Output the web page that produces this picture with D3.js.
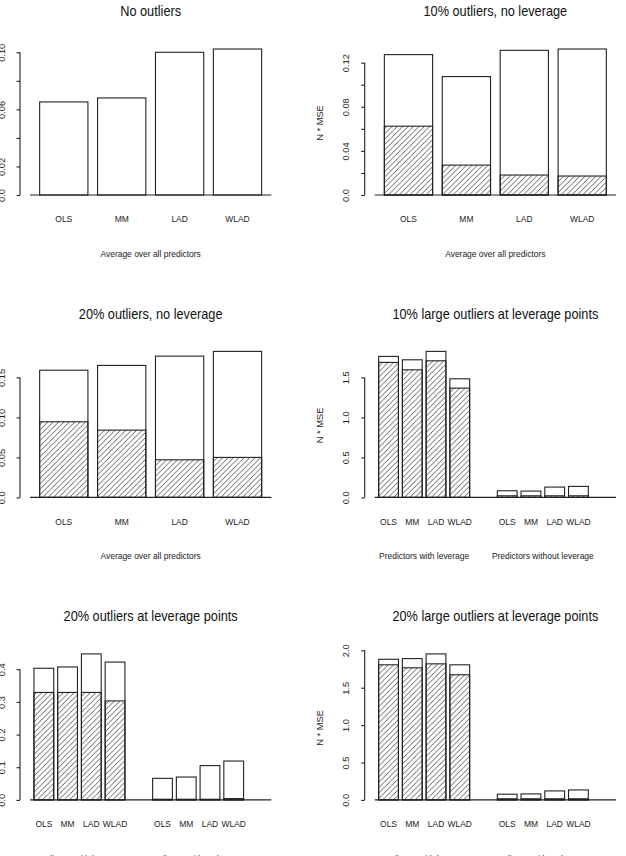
<!DOCTYPE html>
<html>
<head>
<meta charset="utf-8">
<script src="https://cdn.jsdelivr.net/npm/d3@7"></script>
<style>
  html, body { margin: 0; padding: 0; background: #fff; }
  svg { display: block; font-family: "Liberation Sans", Arial, sans-serif; }
</style>
</head>
<body>
<div id="chart"></div>
<script>
const methods = ["OLS", "MM", "LAD", "WLAD"]
const groupLabels = ["Predictors with leverage", "Predictors without leverage"]
const avgLabel = "Average over all predictors"
const yTitle = "N * MSE"
const titles = [
  "No outliers",
  "10% outliers, no leverage",
  "20% outliers, no leverage",
  "10% large outliers at leverage points",
  "20% outliers at leverage points",
  "20% large outliers at leverage points"
]

// N*MSE: full bar (white) and the hatched part, per method
const noOutTotal = [0.0652, 0.068, 0.100, 0.1023]
const noOutHatch = [0, 0, 0, 0]
const out10Total = [0.1273, 0.1074, 0.1312, 0.1324]
const out10Hatch = [0.0624, 0.0271, 0.0181, 0.0172]
const out20Total = [0.159, 0.165, 0.1766, 0.1825]
const out20Hatch = [0.0945, 0.0841, 0.047, 0.050]
// leverage panels: 4 methods with leverage, then 4 without
const lev10LargeTotal = [1.7625, 1.72, 1.825, 1.4825, 0.083, 0.079, 0.129, 0.1375]
const lev10LargeHatch = [1.6875, 1.595, 1.7075, 1.366, 0.02, 0.02, 0.02, 0.02]
const lev20Total = [0.403, 0.407, 0.447, 0.422, 0.066, 0.070, 0.105, 0.119]
const lev20Hatch = [0.329, 0.329, 0.329, 0.303, 0.002, 0.002, 0.002, 0.004]
const lev20LargeTotal = [1.880, 1.889, 1.952, 1.806, 0.076, 0.080, 0.120, 0.133]
const lev20LargeHatch = [1.806, 1.766, 1.819, 1.673, 0.015, 0.015, 0.015, 0.015]

// y ticks and the labels R kept (blank = tick without label)
const ticksA = [0, 0.02, 0.04, 0.06, 0.08, 0.10]
const labelsA = ["0.0", "0.02", "", "0.06", "", "0.10"]
const ticksB = [0, 0.02, 0.04, 0.06, 0.08, 0.10, 0.12]
const labelsB = ["0.0", "", "0.04", "", "0.08", "", "0.12"]
const ticksC = [0, 0.05, 0.10, 0.15]
const labelsC = ["0.0", "0.05", "0.10", "0.15"]
const ticksD = [0, 0.5, 1.0, 1.5]
const labelsD = ["0.0", "0.5", "1.0", "1.5"]
const ticksE = [0, 0.1, 0.2, 0.3, 0.4]
const labelsE = ["0.0", "0.1", "0.2", "0.3", "0.4"]
const ticksF = [0, 0.5, 1.0, 1.5, 2.0]
const labelsF = ["0.0", "0.5", "1.0", "1.5", "2.0"]

const panels = [
  {total: noOutTotal, hatch: noOutHatch, ticks: ticksA, labels: labelsA, grouped: false},
  {total: out10Total, hatch: out10Hatch, ticks: ticksB, labels: labelsB, grouped: false},
  {total: out20Total, hatch: out20Hatch, ticks: ticksC, labels: labelsC, grouped: false},
  {total: lev10LargeTotal, hatch: lev10LargeHatch, ticks: ticksD, labels: labelsD, grouped: true},
  {total: lev20Total, hatch: lev20Hatch, ticks: ticksE, labels: labelsE, grouped: true},
  {total: lev20LargeTotal, hatch: lev20LargeHatch, ticks: ticksF, labels: labelsF, grouped: true}
]

const W = 626, H = 856
const colLeft = [30, 374.7], plotW = 241.3
const rowBase = [195, 497.4, 799.9]
const maxBarH = 146
const sx = 0.91   // picture is squeezed a bit horizontally
const ink = "#222"

const svg = d3.select("#chart").append("svg").attr("width", W).attr("height", H)
svg.append("rect").attr("width", W).attr("height", H).attr("fill", "#fff")

const hw = 5.4
svg.append("defs").append("pattern")
  .attr("id", "hatch").attr("patternUnits", "userSpaceOnUse")
  .attr("width", hw).attr("height", hw)
  .append("path")
  .attr("d", `M0,${hw} L${hw},0 M${-hw/4},${hw/4} L${hw/4},${-hw/4} M${3*hw/4},${5*hw/4} L${5*hw/4},${3*hw/4}`)
  .attr("stroke", "#333").attr("stroke-width", 0.8)

function hText(sel, x, y, str, size) {
  return sel.append("text")
    .attr("transform", `translate(${x},${y}) scale(${sx},1)`)
    .attr("text-anchor", "middle").attr("font-size", size).attr("fill", ink)
    .text(str)
}

panels.forEach((p, i) => drawPanel(p, i))

function drawPanel(p, i) {
  const col = i % 2, row = Math.floor(i / 2)
  const left = colLeft[col], base = rowBase[row]
  const nSlots = p.grouped ? 10 : 4
  const bars = p.total.map((v, k) => ({
    slot: p.grouped ? Math.floor(k / 4) * 5 + k % 4 : k,
    total: v, hatch: p.hatch[k], label: methods[k % 4]
  }))

  const x = d3.scaleBand().domain(d3.range(nSlots)).range([left, left + plotW])
    .paddingInner(1/6).paddingOuter(1/6)
  const y = d3.scaleLinear().domain([0, d3.max(p.total)]).range([base, base - maxBarH])

  const g = svg.append("g")

  g.selectAll("rect.total").data(bars).join("rect")
    .attr("class", "total")
    .attr("x", d => x(d.slot)).attr("width", x.bandwidth())
    .attr("y", d => y(d.total)).attr("height", d => y(0) - y(d.total))
    .attr("fill", "#fff").attr("stroke", ink).attr("stroke-width", 1.1)

  g.selectAll("rect.hatch").data(bars.filter(d => d.hatch > 0)).join("rect")
    .attr("class", "hatch")
    .attr("x", d => x(d.slot)).attr("width", x.bandwidth())
    .attr("y", d => y(d.hatch)).attr("height", d => y(0) - y(d.hatch))
    .attr("fill", "url(#hatch)").attr("stroke", ink).attr("stroke-width", 1.1)

  g.append("line")
    .attr("x1", left).attr("x2", left + plotW).attr("y1", y(0)).attr("y2", y(0))
    .attr("stroke", ink).attr("stroke-width", 1.1)

  // y axis, R style: line only from first to last tick, labels parallel to axis
  const axisX = left - 10
  const ax = g.append("g").attr("transform", `translate(${axisX},0)`)
    .call(d3.axisLeft(y).tickValues(p.ticks).tickSize(3.5).tickSizeOuter(0)
      .tickFormat((d, k) => p.labels[k]))
  ax.select(".domain").remove()
  ax.append("line")
    .attr("y1", y(p.ticks[0])).attr("y2", y(p.ticks[p.ticks.length - 1]))
    .attr("stroke", ink).attr("stroke-width", 1.1)
  ax.selectAll(".tick line").attr("stroke", ink).attr("stroke-width", 1.1)
  ax.selectAll(".tick text")
    .attr("x", null).attr("dy", null)
    .attr("transform", "translate(-15.5,0) rotate(-90)")
    .attr("text-anchor", "middle").attr("font-size", 9.3)
    .attr("font-family", "'Liberation Sans', Arial, sans-serif").attr("fill", ink)

  g.append("text")
    .attr("transform", `translate(${axisX - 41.7},${base - 72}) rotate(-90)`)
    .attr("text-anchor", "middle").attr("font-size", 9.3).attr("fill", ink)
    .text(yTitle)

  hText(g, left + plotW / 2, base - 178.6, titles[i], 14).attr("fill", "#111")

  bars.forEach(d => hText(g, x(d.slot) + x.bandwidth() / 2, base + 27.4, d.label, 9.3))

  if (p.grouped) {
    groupLabels.forEach((lab, k) => {
      const x0 = x(k * 5), x1 = x(k * 5 + 3) + x.bandwidth()
      hText(g, (x0 + x1) / 2, base + 61.8, lab, 9.3)
    })
  } else {
    hText(g, left + plotW / 2, base + 61.8, avgLabel, 9.3)
  }
}
</script>
</body>
</html>
